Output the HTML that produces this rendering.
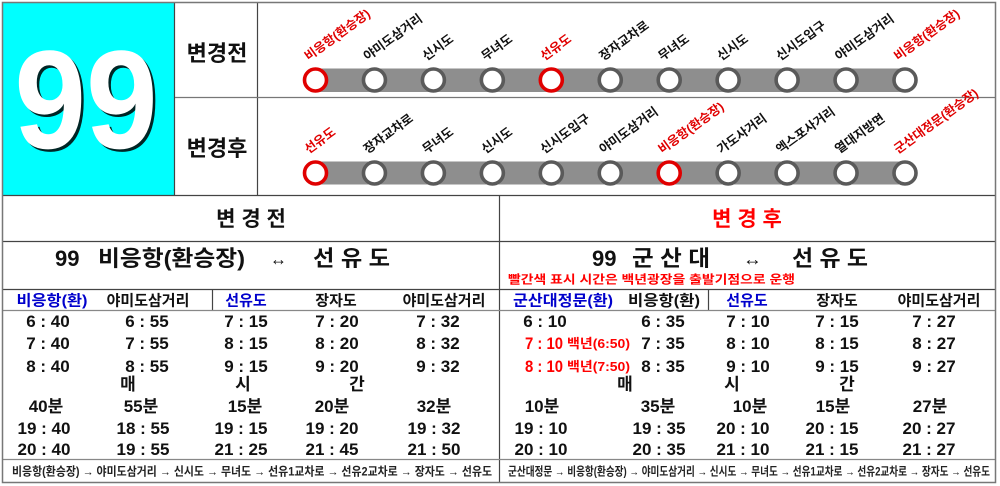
<!DOCTYPE html>
<html><head><meta charset="utf-8"><style>
html,body{margin:0;padding:0;background:#fff;}
svg{display:block;}
text{font-family:"Liberation Sans","Noto Sans CJK KR",sans-serif;font-weight:bold;}
</style></head><body>
<svg width="1000" height="486" viewBox="0 0 1000 486" xmlns="http://www.w3.org/2000/svg">
<rect x="0" y="0" width="1000" height="486" fill="#fff"/>
<!-- cyan box -->
<rect x="3" y="3" width="171.5" height="192" fill="#00ffff"/>
<g transform="translate(86,0) scale(0.92,1)">
<text x="2.7" y="150.5" font-size="140" text-anchor="middle" fill="#000" opacity="0.85">99</text>
<text x="0" y="148" font-size="140" text-anchor="middle" fill="#fff">99</text>
</g>

<!-- top lines -->
<g stroke="#444" stroke-width="1.2" fill="none">
<line x1="174.5" y1="3" x2="174.5" y2="195"/>
<line x1="257.5" y1="3" x2="257.5" y2="195"/>
<line x1="3" y1="195.5" x2="995" y2="195.5"/>
</g>
<line x1="175" y1="97.5" x2="995" y2="97.5" stroke="#777" stroke-width="1.2"/>

<text x="217" y="61" font-size="22" text-anchor="middle" fill="#111">변경전</text>
<text x="217" y="156" font-size="22" text-anchor="middle" fill="#111">변경후</text>

<!-- route bars -->
<rect x="315" y="68.5" width="590" height="23.5" fill="#8e8e8e"/>
<rect x="315" y="161.5" width="590" height="23" fill="#8e8e8e"/>

<g stroke-width="3.6" fill="#fff">
<circle cx="315.5" cy="80" r="11" stroke="#e00000"/>
<circle cx="374.45" cy="80" r="11" stroke="#5a5a5a"/>
<circle cx="433.4" cy="80" r="11" stroke="#5a5a5a"/>
<circle cx="492.35" cy="80" r="11" stroke="#5a5a5a"/>
<circle cx="551.3" cy="80" r="11" stroke="#e00000"/>
<circle cx="610.25" cy="80" r="11" stroke="#5a5a5a"/>
<circle cx="669.2" cy="80" r="11" stroke="#5a5a5a"/>
<circle cx="728.15" cy="80" r="11" stroke="#5a5a5a"/>
<circle cx="787.1" cy="80" r="11" stroke="#5a5a5a"/>
<circle cx="846.05" cy="80" r="11" stroke="#5a5a5a"/>
<circle cx="905" cy="80" r="11" stroke="#5a5a5a"/>

<circle cx="315.5" cy="173" r="11" stroke="#e00000"/>
<circle cx="374.45" cy="173" r="11" stroke="#5a5a5a"/>
<circle cx="433.4" cy="173" r="11" stroke="#5a5a5a"/>
<circle cx="492.35" cy="173" r="11" stroke="#5a5a5a"/>
<circle cx="551.3" cy="173" r="11" stroke="#5a5a5a"/>
<circle cx="610.25" cy="173" r="11" stroke="#5a5a5a"/>
<circle cx="669.2" cy="173" r="11" stroke="#e00000"/>
<circle cx="728.15" cy="173" r="11" stroke="#5a5a5a"/>
<circle cx="787.1" cy="173" r="11" stroke="#5a5a5a"/>
<circle cx="846.05" cy="173" r="11" stroke="#5a5a5a"/>
<circle cx="905" cy="173" r="11" stroke="#5a5a5a"/>
</g>

<g font-size="12.5" fill="#111">
<text transform="translate(308.5,61) rotate(-36)" fill="#e00000">비응항(환승장)</text>
<text transform="translate(367.45,61) rotate(-36)">야미도삼거리</text>
<text transform="translate(426.4,61) rotate(-36)">신시도</text>
<text transform="translate(485.35,61) rotate(-36)">무녀도</text>
<text transform="translate(544.3,61) rotate(-36)" fill="#e00000">선유도</text>
<text transform="translate(603.25,61) rotate(-36)">장자교차로</text>
<text transform="translate(662.2,61) rotate(-36)">무녀도</text>
<text transform="translate(721.15,61) rotate(-36)">신시도</text>
<text transform="translate(780.1,61) rotate(-36)">신시도입구</text>
<text transform="translate(839.05,61) rotate(-36)">야미도삼거리</text>
<text transform="translate(898,61) rotate(-36)" fill="#e00000">비응항(환승장)</text>

<text transform="translate(308.5,154) rotate(-36)" fill="#e00000">선유도</text>
<text transform="translate(367.45,154) rotate(-36)">장자교차로</text>
<text transform="translate(426.4,154) rotate(-36)">무녀도</text>
<text transform="translate(485.35,154) rotate(-36)">신시도</text>
<text transform="translate(544.3,154) rotate(-36)">신시도입구</text>
<text transform="translate(603.25,154) rotate(-36)">야미도삼거리</text>
<text transform="translate(662.2,154) rotate(-36)" fill="#e00000">비응항(환승장)</text>
<text transform="translate(721.15,154) rotate(-36)">가도사거리</text>
<text transform="translate(780.1,154) rotate(-36)">엑스포사거리</text>
<text transform="translate(839.05,154) rotate(-36)">열대지방면</text>
<text transform="translate(898,154) rotate(-36)" fill="#e00000">군산대정문(환승장)</text>
</g>

<!-- bottom lines -->
<g stroke="#444" stroke-width="1.2" fill="none">
<line x1="3" y1="241.5" x2="995" y2="241.5"/>
<line x1="3" y1="289.5" x2="995" y2="289.5"/>
<line x1="499.5" y1="195" x2="499.5" y2="482"/>
<line x1="212.5" y1="289" x2="212.5" y2="310"/>
<line x1="708.5" y1="289" x2="708.5" y2="310"/>
</g>
<g stroke="#888" stroke-width="1.2" fill="none">
<line x1="3" y1="310.5" x2="995" y2="310.5"/>
<line x1="3" y1="459.5" x2="995" y2="459.5"/>
</g>
<!-- outer border -->
<rect x="2.5" y="2.5" width="993" height="480" fill="none" stroke="#777" stroke-width="1.5"/>

<!-- titles -->
<text x="251" y="226" font-size="21" text-anchor="middle" fill="#111">변 경 전</text>
<text x="747" y="226" font-size="21" text-anchor="middle" fill="#ff0000">변 경 후</text>

<g font-size="22" fill="#111">
<text x="55" y="266">99</text>
<text x="98" y="266" textLength="147" lengthAdjust="spacingAndGlyphs">비응항(환승장)</text>
<text x="270" y="265" font-size="18" font-weight="normal" textLength="17" lengthAdjust="spacingAndGlyphs">↔</text>
<text x="313" y="266" textLength="77" lengthAdjust="spacingAndGlyphs">선 유 도</text>

<text x="592" y="266">99</text>
<text x="632" y="266" textLength="78" lengthAdjust="spacingAndGlyphs">군 산 대</text>
<text x="743" y="265" font-size="18" font-weight="normal" textLength="19" lengthAdjust="spacingAndGlyphs">↔</text>
<text x="792" y="266" textLength="76" lengthAdjust="spacingAndGlyphs">선 유 도</text>
</g>
<text x="508" y="283.5" font-size="12" fill="#ff0000" textLength="287" lengthAdjust="spacingAndGlyphs">빨간색 표시 시간은 백년광장을 출발기점으로 운행</text>

<!-- headers -->
<g font-size="15" text-anchor="middle" fill="#111">
<text x="52" y="305.5" fill="#0000cc" textLength="71" lengthAdjust="spacingAndGlyphs">비응항(환)</text>
<text x="148" y="305.5">야미도삼거리</text>
<text x="246" y="305.5" fill="#0000cc">선유도</text>
<text x="336" y="305.5">장자도</text>
<text x="444" y="305.5">야미도삼거리</text>

<text x="563" y="305.5" fill="#0000cc" textLength="100" lengthAdjust="spacingAndGlyphs">군산대정문(환)</text>
<text x="664" y="305.5" textLength="72" lengthAdjust="spacingAndGlyphs">비응항(환)</text>
<text x="747" y="305.5" fill="#0000cc">선유도</text>
<text x="837" y="305.5">장자도</text>
<text x="939" y="305.5">야미도삼거리</text>
</g>

<!-- left times -->
<g font-size="17" text-anchor="middle" fill="#111">
<text x="48" y="327">6 : 40</text>
<text x="147" y="327">6 : 55</text>
<text x="246" y="327">7 : 15</text>
<text x="337" y="327">7 : 20</text>
<text x="438" y="327">7 : 32</text>

<text x="48" y="349">7 : 40</text>
<text x="147" y="349">7 : 55</text>
<text x="246" y="349">8 : 15</text>
<text x="337" y="349">8 : 20</text>
<text x="438" y="349">8 : 32</text>

<text x="48" y="372">8 : 40</text>
<text x="147" y="372">8 : 55</text>
<text x="246" y="372">9 : 15</text>
<text x="337" y="372">9 : 20</text>
<text x="438" y="372">9 : 32</text>

<text x="128" y="390">매</text>
<text x="243" y="390">시</text>
<text x="357" y="390">간</text>

<text x="46" y="412">40분</text>
<text x="141" y="412">55분</text>
<text x="245" y="412">15분</text>
<text x="332" y="412">20분</text>
<text x="434" y="412">32분</text>

<text x="44" y="434">19 : 40</text>
<text x="143" y="434">18 : 55</text>
<text x="241" y="434">19 : 15</text>
<text x="332" y="434">19 : 20</text>
<text x="434" y="434">19 : 32</text>

<text x="44" y="455">20 : 40</text>
<text x="143" y="455">19 : 55</text>
<text x="241" y="455">21 : 25</text>
<text x="332" y="455">21 : 45</text>
<text x="434" y="455">21 : 50</text>
</g>

<!-- right times -->
<g font-size="17" text-anchor="middle" fill="#111">
<text x="545" y="327">6 : 10</text>
<text x="663" y="327">6 : 35</text>
<text x="748" y="327">7 : 10</text>
<text x="837" y="327">7 : 15</text>
<text x="934" y="327">7 : 27</text>

<text x="663" y="349">7 : 35</text>
<text x="748" y="349">8 : 10</text>
<text x="837" y="349">8 : 15</text>
<text x="934" y="349">8 : 27</text>

<text x="663" y="372">8 : 35</text>
<text x="748" y="372">9 : 10</text>
<text x="837" y="372">9 : 15</text>
<text x="934" y="372">9 : 27</text>

<text x="625" y="390">매</text>
<text x="732" y="390">시</text>
<text x="847" y="390">간</text>

<text x="542" y="412">10분</text>
<text x="658" y="412">35분</text>
<text x="750" y="412">10분</text>
<text x="833" y="412">15분</text>
<text x="930" y="412">27분</text>

<text x="541" y="434">19 : 10</text>
<text x="659" y="434">19 : 35</text>
<text x="743" y="434">20 : 10</text>
<text x="832" y="434">20 : 15</text>
<text x="929" y="434">20 : 27</text>

<text x="541" y="455">20 : 10</text>
<text x="659" y="455">20 : 35</text>
<text x="743" y="455">21 : 10</text>
<text x="832" y="455">21 : 15</text>
<text x="929" y="455">21 : 27</text>
</g>
<g fill="#ff0000">
<text x="525" y="349" font-size="17" textLength="38" lengthAdjust="spacingAndGlyphs">7 : 10</text>
<text x="567" y="348" font-size="13" textLength="63" lengthAdjust="spacingAndGlyphs">백년(6:50)</text>
<text x="525" y="372" font-size="17" textLength="38" lengthAdjust="spacingAndGlyphs">8 : 10</text>
<text x="567" y="371" font-size="13" textLength="63" lengthAdjust="spacingAndGlyphs">백년(7:50)</text>
</g>

<!-- footers -->
<g font-size="12" fill="#222">
<text x="12" y="475.5" textLength="480" lengthAdjust="spacingAndGlyphs">비응항(환승장) → 야미도삼거리 → 신시도 → 무녀도 → 선유1교차로 → 선유2교차로 → 장자도 → 선유도</text>
<text x="508" y="475.5" textLength="482" lengthAdjust="spacingAndGlyphs">군산대정문 →  비응항(환승장) → 야미도삼거리 → 신시도 → 무녀도 → 선유1교차로 → 선유2교차로 → 장자도 → 선유도</text>
</g>
</svg>
</body></html>
